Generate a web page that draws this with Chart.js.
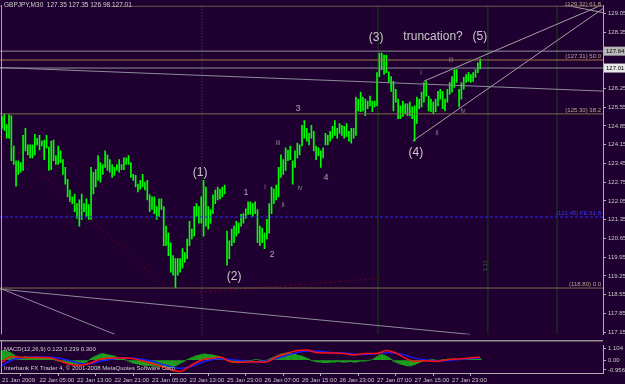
<!DOCTYPE html>
<html><head><meta charset="utf-8">
<script src="https://cdn.jsdelivr.net/npm/chart.js@4.4.1/dist/chart.umd.min.js"></script>
<style>
html,body{margin:0;padding:0;background:#200030;width:625px;height:384px;overflow:hidden}
#main{position:absolute;left:0;top:0}
#macd{position:absolute;left:0;top:340px}
</style></head><body>
<canvas id="main" width="625" height="340"></canvas>
<canvas id="macd" width="625" height="44"></canvas>
<script>
// ---------- DATA ----------
const symbolTitle = "GBPJPY,M30  127.35 127.35 126.98 127.01";
const highs = [
125.20,125.30,124.90,125.27,125.23,124.10,123.55,123.55,123.48,124.50,
124.76,124.14,124.14,124.14,124.54,124.39,124.50,124.28,124.32,124.50,
124.06,124.28,124.32,123.74,124.10,123.92,123.59,123.30,122.86,122.46,
122.20,122.31,121.95,122.09,122.31,121.95,
122.13,121.91,123.30,123.12,123.22,123.74,123.48,123.41,123.92,123.77,
123.59,123.41,123.30,123.41,123.59,123.41,123.66,123.66,123.74,123.48,
123.04,123.01,122.68,122.82,123.04,122.75,122.82,122.28,122.20,122.20,
121.84,122.13,122.13,
121.84,121.11,120.85,120.49,120.01,119.90,119.90,119.90,120.27,120.12,
120.63,121.29,121.00,121.84,121.95,121.84,122.20,122.82,122.57,121.84,
121.73,122.28,122.46,122.57,122.49,122.57,122.64,
120.93,120.56,121.00,121.11,121.29,121.22,121.55,121.58,121.76,
122.02,122.02,121.95,122.02,121.73,121.11,121.04,120.85,121.36,121.95,
122.57,122.49,122.64,123.30,123.77,123.59,124.03,123.95,124.10,123.55,
123.92,124.21,124.14,124.87,125.05,124.76,124.57,124.87,124.65,124.10,
124.03,123.92,124.03,124.57,
124.50,124.65,124.83,125.05,124.76,124.94,124.87,124.83,124.94,124.65,
124.76,124.76,125.93,125.85,126.11,125.93,125.85,125.78,125.96,125.78,
125.78,126.84,127.57,127.57,127.49,127.49,126.87,126.69,126.51,126.22,
125.85,125.60,125.78,125.67,
125.67,125.74,125.56,125.60,125.93,125.85,126.11,126.47,126.51,125.96,
125.85,125.74,125.85,126.14,126.22,126.14,125.85,126.22,126.47,126.69,
126.95,126.95,126.22,126.47,126.66,126.77,126.84,126.77,126.84,126.95,
127.20,127.35];
const lows = [
124.76,124.68,124.39,124.39,123.55,123.41,122.60,123.04,123.12,123.19,
123.92,123.77,123.66,123.66,123.77,124.14,123.95,124.10,123.59,124.03,
123.19,123.22,123.55,123.41,123.41,123.48,123.04,122.68,122.20,122.02,
121.95,121.65,121.40,121.11,121.36,121.65,
121.47,121.36,121.36,122.31,122.57,122.82,122.75,123.04,123.30,123.19,
123.12,122.93,123.01,123.19,123.12,123.22,123.22,123.41,123.41,122.93,
122.82,122.57,122.39,122.49,122.57,122.46,122.09,121.65,121.73,121.58,
121.36,121.47,121.73,
120.38,120.38,120.01,119.39,119.28,118.81,119.28,119.39,119.54,119.76,
119.90,120.38,120.63,120.74,121.47,121.22,121.22,120.74,121.11,121.00,
121.22,121.58,121.95,122.09,122.13,122.20,122.31,
119.65,119.90,120.38,120.49,120.74,120.85,121.11,121.22,121.40,
121.55,121.55,121.47,121.58,120.49,120.38,120.49,120.27,120.63,120.85,
121.58,121.95,122.09,122.20,122.93,123.04,123.19,123.55,123.59,122.68,
123.30,123.66,123.77,124.10,124.39,124.28,124.14,124.39,123.92,123.59,
123.74,123.30,123.66,124.14,
124.14,124.28,124.39,124.50,124.39,124.57,124.50,124.39,124.46,124.28,
124.21,124.39,124.50,125.41,125.38,125.41,125.23,125.49,125.60,125.38,
125.56,125.60,126.69,126.95,126.77,126.84,126.47,126.14,125.41,125.74,
125.12,125.12,125.20,125.30,
125.23,125.23,125.12,124.28,124.94,125.49,125.56,125.74,125.96,125.41,
125.38,125.30,125.38,125.60,125.85,125.49,125.41,125.74,126.03,126.11,
126.29,126.47,125.56,125.85,126.22,126.47,126.51,126.47,126.51,126.66,
126.84,126.98];
const timeLabels = ["21 Jan 2009","22 Jan 05:00","22 Jan 13:00","22 Jan 21:00","23 Jan 05:00","23 Jan 13:00","25 Jan 23:00","26 Jan 07:00","26 Jan 15:00","26 Jan 23:00","27 Jan 07:00","27 Jan 15:00","27 Jan 23:00"];
const barsPerTimeLabel = 16;
const priceTicks = [117.15,117.85,118.55,119.25,119.95,120.65,121.35,122.05,122.75,123.45,124.15,124.85,125.55,126.25,128.35,129.05];
const fibPrices = [129.32,127.31,125.30,118.80];
const fibNames = ["61.8","50.0","38.2","0.0"];
const expansionPrice = 121.45;
const expansionName = "FE 61.8";
const greyLevels = [127.64,127.01];
const markedPrices = [127.64,127.01];
const macdHist = [
0.9,0.95,0.85,0.8,0.7,0.55,0.4,0.3,
0.25,0.3,0.35,0.3,0.3,0.25,0.3,0.3,0.28,0.25,0.25,0.2,0.2,0.15,0.1,
-0.05,-0.1,-0.15,-0.2,-0.25,-0.3,-0.35,-0.4,-0.4,-0.45,-0.4,-0.35,-0.3,-0.2,
0.0,0.15,0.3,0.4,0.5,0.6,0.65,0.6,0.55,0.5,0.45,0.4,0.3,0.2,0.15,0.1,
0.0,-0.1,-0.2,-0.3,-0.35,-0.4,-0.45,-0.5,-0.5,-0.55,-0.5,-0.55,-0.6,-0.6,-0.65,-0.6,-0.6,-0.65,-0.7,-0.7,-0.65,-0.55,-0.45,-0.3,-0.2,-0.1,
0.05,0.15,0.25,0.35,0.45,0.5,0.55,0.6,0.6,0.55,0.55,0.5,0.45,0.4,0.3,0.2,0.1,
-0.05,-0.15,-0.2,-0.25,-0.25,-0.25,-0.2,-0.2,-0.15,-0.1,-0.05,0.0,0.05,
0.05,0.0,-0.05,-0.05,0.0,0.1,
0.2,0.3,0.4,0.5,0.6,0.65,0.7,0.75,0.7,0.65,0.6,0.5,0.45,0.4,0.3,0.2,0.1,
-0.05,-0.1,-0.15,-0.2,-0.2,-0.25,-0.25,-0.25,-0.2,-0.2,-0.2,-0.15,-0.15,-0.2,-0.2,-0.2,-0.15,-0.15,-0.2,-0.2,-0.15,-0.1,-0.1,-0.1,-0.05,0.0,0.05,
0.2,0.35,0.5,0.55,0.5,0.4,0.25,0.1,
-0.1,-0.2,-0.3,-0.4,-0.45,-0.5,-0.55,-0.55,-0.5,-0.45,-0.35,-0.25,-0.15,-0.1,
-0.05,0.0,0.05,0.05,0.0,-0.05,0.0,0.05,0.05,0.1,0.1,0.1,0.1,0.05,0.05,0.05,0.1,0.1,0.1,0.1,0.1,0.1,0.12,0.12];
const redBars = [0,4,10,16,22,28,33,37,42,47,52,56,62,68,73,76,80,85,90,93,97,102,108,112,118,122,126,130,134,140,146,150,155,160,164,168,172,176,180,186,190,196,204];
const redVals = [-0.2,0.35,0.25,0.25,0.15,-0.35,-0.5,-0.35,0.1,0.2,0.2,0.15,-0.2,-0.6,-1.0,-1.1,-0.6,0.0,0.2,0.3,-0.1,-0.2,-0.15,-0.2,0.4,0.7,0.95,1.0,0.75,0.7,0.65,0.5,0.65,0.65,0.95,0.7,0.2,-0.1,-0.05,-0.1,0.05,0.15,0.3];
const blueBars = [0,4,10,16,22,28,33,37,42,47,52,58,64,70,76,81,86,92,98,104,110,116,122,128,134,140,146,152,158,164,170,176,182,188,196,204];
const blueVals = [-0.5,0.0,0.25,0.3,0.25,0.0,-0.3,-0.35,-0.1,0.1,0.2,0.15,-0.1,-0.5,-0.8,-0.6,-0.15,0.15,0.05,-0.1,-0.15,0.1,0.5,0.85,0.9,0.75,0.7,0.55,0.6,0.75,0.6,0.2,0.0,-0.05,0.1,0.24];
const macdTicks = [1.104,0,-0.956];
const macdTickText = ["1.104","0.00","-0.956"];
const macdTitle = "MACD(12,26,9) 0.122 0.239 0.300";
const footer = "Interbank FX Trader 4, \u00A9 2001-2008 MetaQuotes Software Corp.";

// ---------- LAYOUT (scale ranges, annotation placement) ----------
const X_MIN = -0.85, X_MAX = 256.4, Y_MIN = 117.07, Y_MAX = 129.34;
const FONT = '"Liberation Sans", Arial, sans-serif';
const trendLines = [
  {a:[-0.85,127.03], b:[256.4,126.15], c:'#8c8c9c'},
  {a:[-0.85,118.79], b:[48.2,117.07], c:'#8c8c9c'},
  {a:[-0.85,118.76], b:[199.7,117.07], c:'#8c8c9c'},
  {a:[175.3,124.29], b:[256.4,129.23], c:'#a0a0a0'},
  {a:[180.0,126.52], b:[256.4,129.38], c:'#a0a0a0'},
  {a:[230.8,129.52], b:[256.4,129.08], c:'#a0a0a0'}
];
const zigzag = [
  [[-0.85,124.47],[69.5,118.86]],
  [[84.5,118.64],[161.3,119.16]]
];
const vLines = [{v:85.3,dash:[1,2]},{v:160.4,dash:[]},{v:207.3,dash:[]},{v:236.8,dash:[]}];
const waveLabels = [
  {t:'(1)',i:84.5,p:123.11,s:12,c:'#c8c8c8'},
  {t:'(2)',i:99.0,p:119.23,s:12,c:'#c8c8c8'},
  {t:'(3)',i:159.6,p:128.13,s:12,c:'#c8c8c8'},
  {t:'(4)',i:176.6,p:123.85,s:12,c:'#c8c8c8'},
  {t:'(5)',i:203.9,p:128.17,s:12,c:'#c8c8c8'},
  {t:'truncation?',i:183.9,p:128.17,s:12,c:'#c8c8c8'},
  {t:'1',i:104.1,p:122.38,s:9,c:'#a8a8a8'},
  {t:'2',i:115.2,p:120.04,s:9,c:'#a8a8a8'},
  {t:'3',i:126.3,p:125.49,s:9,c:'#a8a8a8'},
  {t:'4',i:138.2,p:122.93,s:9,c:'#a8a8a8'},
  {t:'i',i:112.2,p:122.56,s:7,c:'#808080'},
  {t:'ii',i:119.9,p:121.90,s:7,c:'#808080'},
  {t:'iii',i:117.75,p:124.21,s:7,c:'#808080'},
  {t:'iv',i:127.1,p:122.53,s:7,c:'#808080'},
  {t:'i',i:178.8,p:126.81,s:7,c:'#808080'},
  {t:'ii',i:185.6,p:124.58,s:7,c:'#808080'},
  {t:'iii',i:191.6,p:127.29,s:7,c:'#808080'},
  {t:'iv',i:196.7,p:125.42,s:7,c:'#808080'}
];

function seg(a,b){return [{x:a[0],y:a[1]},{x:b[0],y:b[1]}];}
function lineDs(data,color,opts){return Object.assign({type:'line',data,borderColor:color,borderWidth:1,pointRadius:0,order:1,fill:false},opts||{});}

const mainSets = [];
mainSets.push({type:'bar',data:highs.map((h,i)=>({x:i,y:[lows[i],h]})),backgroundColor:'#00ff00',barThickness:1,borderWidth:0,order:10});
fibPrices.forEach(p=>mainSets.push(lineDs(seg([X_MIN,p],[X_MAX,p]),p===127.31?'#9a7848':'#7c6c4c')));
greyLevels.forEach(p=>mainSets.push(lineDs(seg([X_MIN,p],[X_MAX,p]),'#8e8e98')));
mainSets.push(lineDs(seg([X_MIN,expansionPrice],[X_MAX,expansionPrice]),'#2a2aff',{borderDash:[3,2]}));
trendLines.forEach(t=>mainSets.push(lineDs(seg(t.a,t.b),t.c)));
zigzag.forEach(z=>mainSets.push(lineDs(seg(z[0],z[1]),'#b00000',{borderDash:[1,4]})));
vLines.forEach(v=>mainSets.push(lineDs(seg([v.v,Y_MIN],[v.v,Y_MAX]),v.dash.length?'#3a6a3a':'#0c4a0c',{borderDash:v.dash,order:20})));

const overlay = {
  id:'overlay',
  afterDatasetsDraw(chart){
    const {ctx, chartArea:a, scales:{x,y}} = chart;
    ctx.save();
    ctx.textBaseline='middle';
    waveLabels.forEach(l=>{
      ctx.font = l.s+'px '+FONT; ctx.fillStyle=l.c; ctx.textAlign='center';
      ctx.fillText(l.t, x.getPixelForValue(l.i), y.getPixelForValue(l.p));
    });
    ctx.font = '6px '+FONT; ctx.textAlign='right'; ctx.textBaseline='bottom';
    fibPrices.forEach((p,k)=>{
      ctx.fillStyle='#b8a888';
      ctx.fillText('('+p.toFixed(2)+') '+fibNames[k], a.right-2, Math.max(y.getPixelForValue(p)-1, 7));
    });
    ctx.fillStyle='#3a3aff';
    ctx.fillText('('+expansionPrice.toFixed(2)+') '+expansionName, a.right-2, y.getPixelForValue(expansionPrice)-1);
    ctx.save();
    ctx.translate(x.getPixelForValue(206.1), y.getPixelForValue(119.63));
    ctx.rotate(-Math.PI/2); ctx.fillStyle='#2e6a2e'; ctx.textAlign='center'; ctx.textBaseline='middle';
    ctx.fillText('1.11',0,0);
    ctx.restore();
    ctx.fillStyle='#200030'; ctx.fillRect(1,0,108,10);
    ctx.font='6.5px '+FONT; ctx.fillStyle='#d0d0d0'; ctx.textAlign='left'; ctx.textBaseline='middle';
    ctx.fillText(symbolTitle, 4, 5);
    ctx.fillStyle='#a8a8b0'; ctx.fillRect(1,5,1,a.bottom-5);
    markedPrices.forEach((p,k)=>{
      const py = y.getPixelForValue(p);
      ctx.fillStyle = k===0?'#b8b8b8':'#e8e8e8';
      ctx.fillRect(a.right+1, py-4.5, 21, 9);
      ctx.fillStyle='#000'; ctx.font='6px '+FONT; ctx.textAlign='left';
      ctx.fillText(p.toFixed(2), a.right+3, py+0.5);
    });
    ctx.restore();
  }
};

new Chart(document.getElementById('main'),{
  type:'bar',
  data:{datasets:mainSets},
  options:{
    responsive:false, animation:false, events:[],
    layout:{padding:{top:5,left:0,right:0,bottom:0}},
    plugins:{legend:{display:false},tooltip:{enabled:false}},
    scales:{
      x:{type:'linear',offset:false,min:X_MIN,max:X_MAX,display:false},
      y:{type:'linear',position:'right',min:Y_MIN,max:Y_MAX,
        afterFit:s=>{s.width=22;},
        afterBuildTicks:s=>{s.ticks=priceTicks.map(v=>({value:v}));},
        ticks:{autoSkip:false,color:'#c8c8c8',font:{size:6,family:FONT},padding:2,callback:v=>Number(v).toFixed(2)},
        grid:{drawOnChartArea:false,tickLength:3,color:'#b0b0b0'},
        border:{color:'#b0b0b0'}}
    }
  },
  plugins:[overlay]
});

const macdOverlay = {
  id:'macdOverlay',
  afterDatasetsDraw(chart){
    const {ctx, chartArea:a} = chart;
    ctx.save();
    ctx.fillStyle='#909090'; ctx.fillRect(0,0,a.right,1.5);
    ctx.fillStyle='#a8a8b0'; ctx.fillRect(1,0,1,a.bottom);
    ctx.font='6px '+FONT; ctx.fillStyle='#d0d0d0'; ctx.textAlign='left'; ctx.textBaseline='middle';
    ctx.fillText(macdTitle, 4, a.top+4);
    ctx.fillText(footer, 4, a.bottom-5);
    ctx.restore();
  }
};

new Chart(document.getElementById('macd'),{
  type:'bar',
  data:{datasets:[
    {type:'bar',data:macdHist.map((v,i)=>({x:i,y:v})),backgroundColor:'#1ea01e',barThickness:2,borderWidth:0,order:5},
    {type:'line',data:redBars.map((b,k)=>({x:b,y:redVals[k]})),borderColor:'#ff1010',borderWidth:1.5,pointRadius:0,cubicInterpolationMode:'monotone',order:1},
    {type:'line',data:blueBars.map((b,k)=>({x:b,y:blueVals[k]})),borderColor:'#1a1aff',borderWidth:1.5,pointRadius:0,cubicInterpolationMode:'monotone',order:2}
  ]},
  options:{
    responsive:false, animation:false, events:[],
    layout:{padding:{top:1,left:0,right:0,bottom:0}},
    plugins:{legend:{display:false},tooltip:{enabled:false}},
    scales:{
      x:{type:'linear',offset:false,min:X_MIN,max:X_MAX,
        afterFit:s=>{s.height=11;},
        afterBuildTicks:s=>{s.ticks=timeLabels.map((t,k)=>({value:k*barsPerTimeLabel}));},
        ticks:{autoSkip:false,maxRotation:0,align:'start',color:'#c8c8c8',font:{size:6,family:FONT},padding:1,callback:(v,k)=>timeLabels[k]},
        grid:{drawOnChartArea:false,tickLength:3,color:'#b0b0b0'},
        border:{color:'#b0b0b0'}},
      y:{type:'linear',position:'right',min:-1.25,max:1.42,
        afterFit:s=>{s.width=22;},
        afterBuildTicks:s=>{s.ticks=macdTicks.map(v=>({value:v}));},
        ticks:{autoSkip:false,color:'#c8c8c8',font:{size:6,family:FONT},padding:2,callback:(v,k)=>macdTickText[k]},
        grid:{drawOnChartArea:false,tickLength:3,color:'#b0b0b0'},
        border:{color:'#b0b0b0'}}
    }
  },
  plugins:[macdOverlay]
});
</script>
</body></html>
